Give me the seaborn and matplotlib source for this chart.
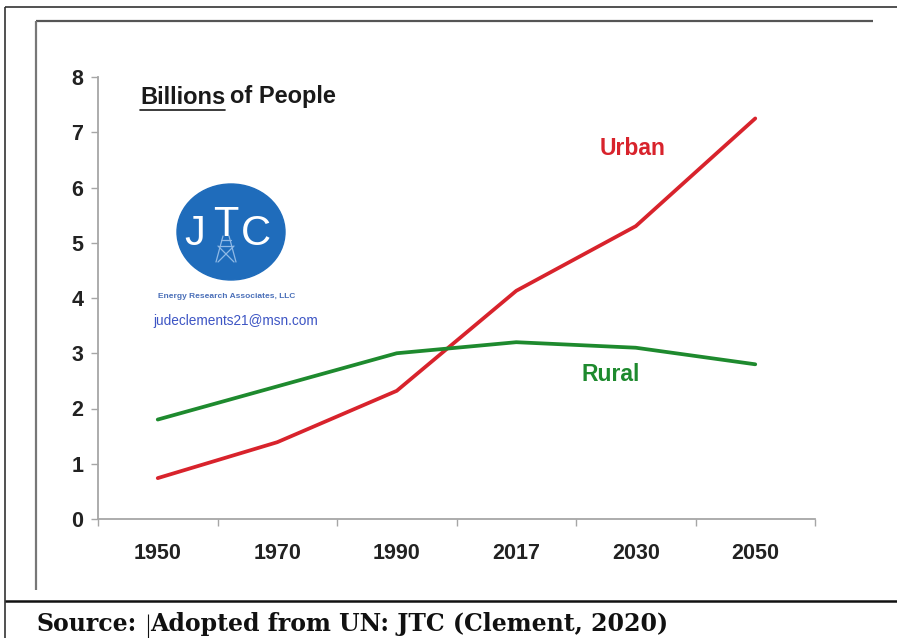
import matplotlib
matplotlib.use("Agg")
import matplotlib.pyplot as plt
from matplotlib.lines import Line2D
from matplotlib.patches import Ellipse
import pandas as pd
import seaborn as sns

# Population (billions) by year
years = ["1950", "1970", "1990", "2017", "2030", "2050"]
urban = [0.74, 1.39, 2.32, 4.13, 5.30, 7.25]
rural = [1.80, 2.40, 3.00, 3.20, 3.10, 2.80]
y_ticks = [0, 1, 2, 3, 4, 5, 6, 7, 8]

URBAN_COLOR = "#d8232c"
RURAL_COLOR = "#1e8a2e"
AXIS_GREY = "#a6a6a6"

sns.set_theme(style="white")
plt.rcParams["font.family"] = ["Liberation Sans", "DejaVu Sans"]

W, H = 897, 638
fig = plt.figure(figsize=(W / 100, H / 100), dpi=100)
fig.patch.set_facecolor("white")


def fx(px):
    return px / W


def fy(py):
    return 1 - py / H


ax = fig.add_axes([fx(98), fy(519), fx(815) - fx(98), fy(77) - fy(519)])

df = pd.DataFrame({
    "year": years * 2,
    "value": urban + rural,
    "series": ["Urban"] * len(years) + ["Rural"] * len(years),
})
sns.lineplot(data=df, x="year", y="value", hue="series",
             palette={"Urban": URBAN_COLOR, "Rural": RURAL_COLOR},
             linewidth=2.7, legend=False, ax=ax, sort=False)
for ln in ax.lines:
    ln.set_solid_capstyle("round")
    ln.set_solid_joinstyle("round")

ax.set_xlim(-0.5, len(years) - 0.5)
ax.set_ylim(0, 8)
ax.set_xlabel("")
ax.set_ylabel("")
ax.set_facecolor("none")

tick_font = dict(weight="bold", size=15.5, color="#222222")
ax.set_xticks(range(len(years)))
ax.set_xticklabels(years, **tick_font)
ax.set_xticks([i - 0.5 for i in range(len(years) + 1)], minor=True)
ax.set_yticks(y_ticks)
ax.set_yticklabels([str(v) for v in y_ticks], **tick_font)
ax.tick_params(axis="x", which="major", length=0, pad=17.5)
ax.tick_params(axis="x", which="minor", length=5, width=1.0, color=AXIS_GREY,
               bottom=True, direction="out")
ax.tick_params(axis="y", which="major", length=5, width=1.0, color=AXIS_GREY,
               left=True, direction="out", pad=5.5)

for side in ("top", "right"):
    ax.spines[side].set_visible(False)
for side in ("left", "bottom"):
    ax.spines[side].set_color(AXIS_GREY)
    ax.spines[side].set_linewidth(1.3)

# Series labels
ax.text(3.7, 6.7, "Urban", color=URBAN_COLOR, fontsize=16.5, weight="bold",
        ha="left", va="center")
ax.text(3.55, 2.62, "Rural", color=RURAL_COLOR, fontsize=16.5, weight="bold",
        ha="left", va="center")

# Heading with underlined first word
t1 = fig.text(fx(140), fy(97), "Billions", fontsize=17, weight="bold",
              color="#1a1a1a", ha="left", va="center")
fig.canvas.draw()
r = fig.canvas.get_renderer()
bb = t1.get_window_extent(r)
fig.text(bb.x1 / W + fx(5), fy(97), "of People", fontsize=17, weight="bold",
         color="#1a1a1a", ha="left", va="center")
fig.add_artist(Line2D([bb.x0 / W, bb.x1 / W], [fy(110), fy(110)],
                      color="#1a1a1a", lw=1.2, transform=fig.transFigure))

# Logo badge, drawn in pixel units
LOGO_BLUE = "#1f6cbb"
lx0, lx1, ly0, ly1 = 170, 292, 178, 290
lax = fig.add_axes([fx(lx0), fy(ly1), fx(lx1) - fx(lx0), fy(ly0) - fy(ly1)])
lax.set_xlim(lx0, lx1)
lax.set_ylim(ly1, ly0)
lax.axis("off")
lax.add_patch(Ellipse((231, 232), 108, 96, color=LOGO_BLUE))
tower = "#8fb9e6"
for xs, ys in [([223, 216], [236, 262]), ([229, 236], [236, 262]),
               ([218, 234], [246, 262]), ([234, 218], [246, 262]),
               ([219, 233], [246, 246]), ([221, 231], [240, 240])]:
    lax.plot(xs, ys, color=tower, lw=0.9)
logo_font = dict(color="white", fontsize=30, va="baseline", ha="center",
                 family=["Liberation Sans", "DejaVu Sans"])
lax.text(195, 245, "J", **logo_font)
lax.text(226, 236, "T", **logo_font)
lax.text(256, 245, "C", **logo_font)

fig.text(fx(227), fy(297), "Energy Research Associates, LLC", fontsize=6,
         color="#4a6fb8", ha="center", va="center", weight="bold")
fig.text(fx(236), fy(321), "judeclements21@msn.com", fontsize=9.8,
         color="#3d55c4", ha="center", va="center")

# Framing lines
frame = dict(transform=fig.transFigure, solid_capstyle="butt")
fig.add_artist(Line2D([fx(5), 1], [fy(7), fy(7)], color="#333333", lw=1.2, **frame))
fig.add_artist(Line2D([fx(5), fx(5)], [fy(7), 0], color="#333333", lw=1.2, **frame))
fig.add_artist(Line2D([fx(36), fx(873)], [fy(21), fy(21)], color="#555555", lw=1.6, **frame))
fig.add_artist(Line2D([fx(36), fx(36)], [fy(21), fy(590)], color="#777777", lw=1.6, **frame))
fig.add_artist(Line2D([fx(5), 1], [fy(601), fy(601)], color="#111111", lw=1.8, **frame))

# Source note
src_font = dict(fontsize=17, weight="bold", color="#111111", ha="left",
                va="center", family=["DejaVu Serif", "Liberation Serif"])
fig.text(fx(37), fy(624), "Source:", **src_font)
fig.text(fx(150), fy(624), "Adopted from UN: JTC (Clement, 2020)", **src_font)
fig.add_artist(Line2D([fx(148), fx(148)], [fy(614), fy(638)], color="#111111",
                      lw=0.8, **frame))

fig.savefig("out.png", dpi=100, facecolor="white")
